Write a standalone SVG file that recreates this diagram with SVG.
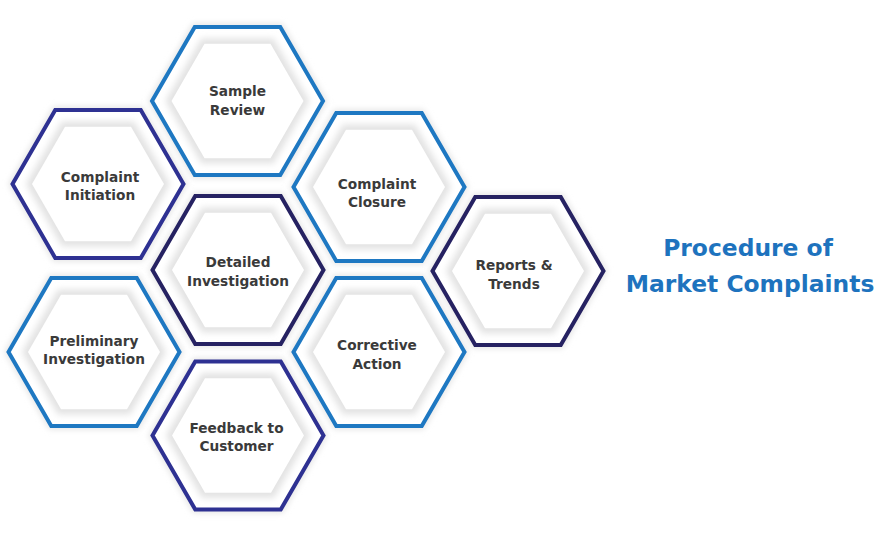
<svg xmlns="http://www.w3.org/2000/svg" width="894" height="537" viewBox="0 0 894 537">
<style>
.glow{fill:none;stroke:#e0e0e0;stroke-width:6;filter:url(#blur3)}
.outer{fill:#fff;stroke-width:4;stroke-linejoin:miter}
.blue{stroke:#1e78c2}
.navy{stroke:#2e3192}
.dark{stroke:#262262}
.shade{fill:#e3e3e3;filter:url(#blur3)}
.inner{fill:#fff}
.lbl{font-family:"DejaVu Sans","Liberation Sans",sans-serif;font-weight:bold;font-size:13.7px;fill:#3a3a3a;text-anchor:middle}
.title{font-family:"DejaVu Sans","Liberation Sans",sans-serif;font-weight:bold;font-size:23.4px;fill:#1e73be;text-anchor:middle}
</style>
<defs>
<filter id="blur3" x="-20%" y="-20%" width="140%" height="140%"><feGaussianBlur stdDeviation="3"/></filter>
<polygon id="hexO" points="-85.5,0 -42.75,-74 42.75,-74 85.5,0 42.75,74 -42.75,74"/>
<polygon id="hexS" points="-72,0 -36,-62.4 36,-62.4 72,0 36,62.4 -36,62.4"/>
<polygon id="hexI" points="-66,0 -33,-57.2 33,-57.2 66,0 33,57.2 -33,57.2"/>
</defs>
<rect width="894" height="537" fill="#fff"/>
<g id="connectors"/>

<g id="sample-review" transform="translate(237.5,101)">
<use href="#hexO" class="glow"/><use href="#hexO" class="outer blue"/>
<use href="#hexS" class="shade"/><use href="#hexI" class="inner"/>
<text class="lbl" y="-5">Sample</text><text class="lbl" y="13.5">Review</text>
</g>

<g id="complaint-initiation" transform="translate(98,184)">
<use href="#hexO" class="glow"/><use href="#hexO" class="outer navy"/>
<use href="#hexS" class="shade"/><use href="#hexI" class="inner"/>
<text class="lbl" x="2" y="-2.5">Complaint</text><text class="lbl" x="2" y="16">Initiation</text>
</g>

<g id="detailed-investigation" transform="translate(238,270)">
<use href="#hexO" class="glow"/><use href="#hexO" class="outer dark"/>
<use href="#hexS" class="shade"/><use href="#hexI" class="inner"/>
<text class="lbl" y="-3">Detailed</text><text class="lbl" y="15.5">Investigation</text>
</g>

<g id="complaint-closure" transform="translate(379,187)">
<use href="#hexO" class="glow"/><use href="#hexO" class="outer blue"/>
<use href="#hexS" class="shade"/><use href="#hexI" class="inner"/>
<text class="lbl" x="-2" y="1.5">Complaint</text><text class="lbl" x="-2" y="20">Closure</text>
</g>

<g id="reports-trends" transform="translate(518,271)">
<use href="#hexO" class="glow"/><use href="#hexO" class="outer dark"/>
<use href="#hexS" class="shade"/><use href="#hexI" class="inner"/>
<text class="lbl" x="-4" y="-1">Reports &amp;</text><text class="lbl" x="-4" y="18">Trends</text>
</g>

<g id="preliminary-investigation" transform="translate(94,352)">
<use href="#hexO" class="glow"/><use href="#hexO" class="outer blue"/>
<use href="#hexS" class="shade"/><use href="#hexI" class="inner"/>
<text class="lbl" y="-6.5">Preliminary</text><text class="lbl" y="12">Investigation</text>
</g>

<g id="corrective-action" transform="translate(379,352)">
<use href="#hexO" class="glow"/><use href="#hexO" class="outer blue"/>
<use href="#hexS" class="shade"/><use href="#hexI" class="inner"/>
<text class="lbl" x="-2" y="-2">Corrective</text><text class="lbl" x="-2" y="17">Action</text>
</g>

<g id="feedback-to-customer" transform="translate(238,435.5)">
<use href="#hexO" class="glow"/><use href="#hexO" class="outer navy"/>
<use href="#hexS" class="shade"/><use href="#hexI" class="inner"/>
<text class="lbl" x="-1.5" y="-3">Feedback to</text><text class="lbl" x="-1.5" y="15.5">Customer</text>
</g>

<g id="title">
<text class="title" x="748" y="256">Procedure of</text>
<text class="title" x="750" y="292">Market Complaints</text>
</g>
</svg>
